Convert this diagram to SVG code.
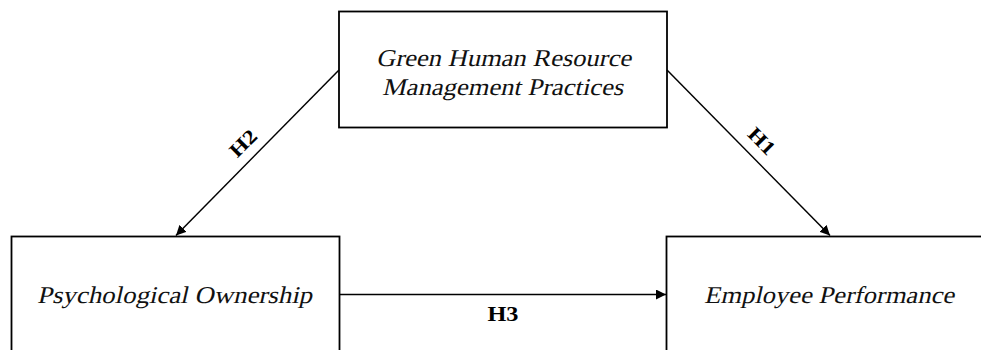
<svg xmlns="http://www.w3.org/2000/svg" width="981" height="350" viewBox="0 0 981 350">
<style>
.box{fill:#fff;stroke:#000;stroke-width:1.8}
.lbl{font-family:"Liberation Serif","Times New Roman",serif;font-style:normal;font-size:24px;fill:#111;text-anchor:middle}
.h{font-family:"Liberation Serif","Times New Roman",serif;font-weight:bold;font-size:20px;fill:#000;text-anchor:middle}
.conn{stroke:#000;stroke-width:1.5;fill:none}
</style>
<defs>
<marker id="ah" viewBox="0 0 10 10" refX="10" refY="5" markerWidth="10" markerHeight="10" markerUnits="userSpaceOnUse" orient="auto">
<path d="M0,0 L10,5 L0,10 Z" fill="#000"/>
</marker>
</defs>
<rect width="981" height="350" fill="#fff"/>
<g id="ghrm">
<rect class="box" x="339" y="11.5" width="328" height="116"/>
<text class="lbl" transform="translate(503.5,66) skewX(-13)" textLength="255" lengthAdjust="spacingAndGlyphs">Green Human Resource</text>
<text class="lbl" transform="translate(502.5,95) skewX(-13)" textLength="241" lengthAdjust="spacingAndGlyphs">Management Practices</text>
</g>
<g id="po">
<rect class="box" x="11.5" y="236.5" width="328" height="130"/>
<text class="lbl" transform="translate(174.5,303) skewX(-13)" textLength="275" lengthAdjust="spacingAndGlyphs">Psychological Ownership</text>
</g>
<g id="ep">
<rect class="box" x="666.5" y="236.5" width="330" height="130"/>
<text class="lbl" transform="translate(829,303) skewX(-13)" textLength="250" lengthAdjust="spacingAndGlyphs">Employee Performance</text>
</g>
<g id="connectors">
<line class="conn" x1="339" y1="70" x2="176" y2="235.5" marker-end="url(#ah)"/>
<line class="conn" x1="667" y1="70" x2="830" y2="235.5" marker-end="url(#ah)"/>
<line class="conn" x1="340" y1="294.5" x2="666" y2="294.5" marker-end="url(#ah)"/>
<text class="h" transform="translate(243,143) rotate(-45)" y="7" textLength="30" lengthAdjust="spacingAndGlyphs">H2</text>
<text class="h" transform="translate(762,141) rotate(45)" y="7" textLength="30" lengthAdjust="spacingAndGlyphs">H1</text>
<text class="h" x="503" y="321" textLength="31" lengthAdjust="spacingAndGlyphs">H3</text>
</g>
</svg>
